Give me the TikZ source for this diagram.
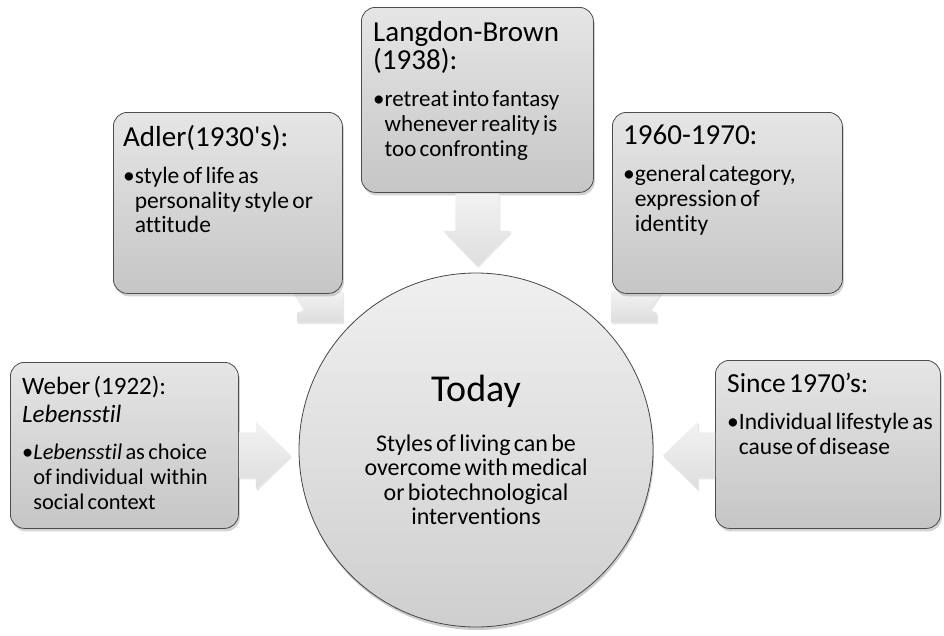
\documentclass[tikz,border=0pt]{standalone}
\usepackage{fontspec}
\setmainfont{Carlito}[Ligatures={NoCommon}]
\usetikzlibrary{shadows,calc,positioning}

\tikzset{
  card/.style={draw=gray!60!black, line width=0.8pt, rounded corners=14pt,
    top color=gray!20, bottom color=gray!45, inner sep=0pt, anchor=north west,
    drop shadow={opacity=0.35, shadow xshift=1.5pt, shadow yshift=-3pt}},
  cardtext/.style={anchor=north west, align=left, inner sep=0pt, text width=#1},
  blockarrow/.style={top color=gray!10, bottom color=gray!26,
    drop shadow={opacity=0.2, shadow xshift=1pt, shadow yshift=-2pt}},
  hub/.style={circle, draw=gray!55!black, line width=0.8pt, top color=gray!12, bottom color=gray!38,
    minimum size=354pt, inner sep=0pt, align=center, text width=280pt,
    drop shadow={opacity=0.4, shadow xshift=1pt, shadow yshift=-3pt}}
}
\newcommand{\cardhead}[2]{{\fontsize{#1}{28.5}\selectfont #2\par}\vspace{12pt}}
\newcommand{\cardbullet}[2]{{\fontsize{#1}{24.8}\selectfont\setbox0\hbox{•}%
  \hangindent\wd0\hangafter1\noindent•#2\par}}

\begin{document}
\begin{tikzpicture}[x=1pt,y=-1pt]
\useasboundingbox (0,0) rectangle (944,635);

% boxes
\node[card, minimum width=228pt, minimum height=166pt] (weber) at (10,362) {};
\node[card, minimum width=232pt, minimum height=185pt] (langdon) at (361,7) {};
\node[card, minimum width=225pt, minimum height=168pt] (since) at (715,360) {};

% arrows half hidden behind the upper boxes
\path[blockarrow] ($(342,293)+(-50,-2)$) -- ++(12,19) -- ++(-7,3) -- ++(0,9) -- ++(46,0) -- ++(0,-31) -- cycle;
\path[blockarrow] ($(612,293)+(50,-2)$) -- ++(-12,19) -- ++(7,3) -- ++(0,9) -- ++(-46,0) -- ++(0,-31) -- cycle;

\node[card, minimum width=229pt, minimum height=181pt] (adler) at (113,112) {};
\node[card, minimum width=230pt, minimum height=181pt] (sixties) at (612,112) {};

% arrows into the circle
\path[blockarrow] ($(weber.east)+(0,-13)$) -- ++(17,0) -- ++(0,-11) -- ++(35,34) -- ++(-35,34) -- ++(0,-12) -- ++(-17,0) -- cycle;
\path[blockarrow] ($(since.west)+(0,-12)$) -- ++(-17,0) -- ++(0,-11) -- ++(-35,34) -- ++(35,34) -- ++(0,-12) -- ++(17,0) -- cycle;
\path[blockarrow] ($(langdon.south)+(-22,1)$) -- ++(0,37) -- ++(-12,0) -- ++(34,35) -- ++(34,-35) -- ++(-12,0) -- ++(0,-37) -- cycle;

% centre
\node[hub] (today) at (476,450) {{\fontsize{38}{40}\selectfont Today\par}\vspace{25pt}
  {\fontsize{24}{24.5}\selectfont Styles of living can be\\overcome with medical\\or biotechnological\\interventions\par}};

% texts
\node[cardtext=210pt] (webertext) at ([shift={(12,14)}]weber.north west) {%
  \cardhead{25}{Weber (1922):\newline\textit{Lebensstil}}
  \cardbullet{22.4}{\textit{Lebensstil} as choice\newline of individual\ \ within\newline social context}};
\node[cardtext=210pt] (adlertext) at ([shift={(10,13)}]adler.north west) {%
  \cardhead{29}{Adler(1930\textquotesingle s):}
  \cardbullet{23.5}{style of life as\newline personality style or\newline attitude}};
\node[cardtext=214pt] (langdontext) at ([shift={(12,14)}]langdon.north west) {%
  \cardhead{29}{Langdon-Brown\newline(1938):}
  \cardbullet{23}{retreat into fantasy\newline whenever reality is\newline too confronting}};
\node[cardtext=214pt] (sixtiestext) at ([shift={(11,13)}]sixties.north west) {%
  \cardhead{29}{1960-1970:}
  \cardbullet{23.5}{general category,\newline expression of\newline identity}};
\node[cardtext=210pt] (sincetext) at ([shift={(12,13)}]since.north west) {%
  \cardhead{27.5}{Since 1970’s:}
  \cardbullet{23.5}{Individual lifestyle as\newline cause of disease}};
\end{tikzpicture}
\end{document}
